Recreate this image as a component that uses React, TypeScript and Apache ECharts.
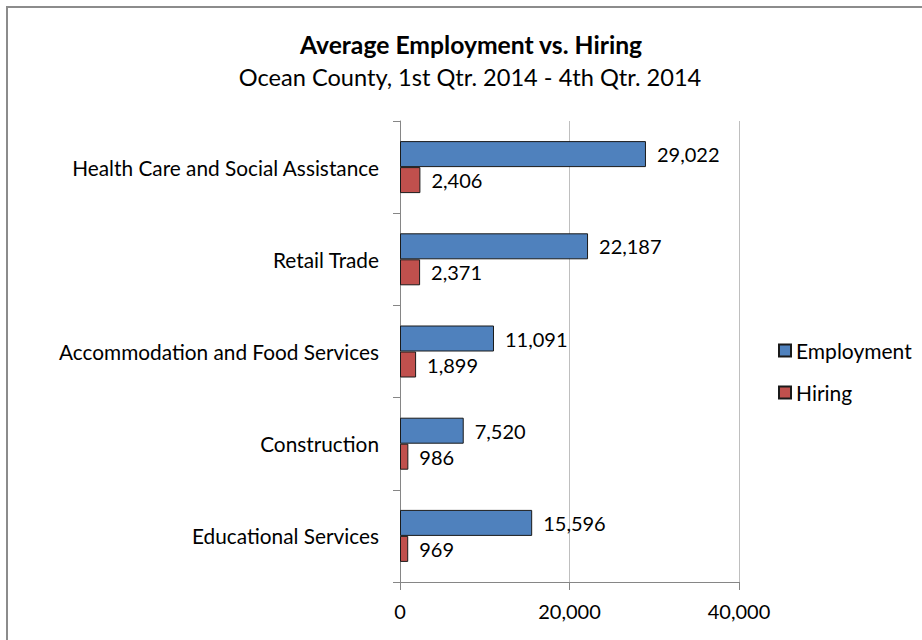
import React, { useEffect, useRef } from "react";
import * as echarts from "echarts";

const categories = [
  "Health Care and Social Assistance",
  "Retail Trade",
  "Accommodation and Food Services",
  "Construction",
  "Educational Services",
];
const employment = [29022, 22187, 11091, 7520, 15596];
const hiring = [2406, 2371, 1899, 986, 969];
const xTicks = { min: 0, max: 40000, interval: 20000 };

const FONT = "Lato, 'Open Sans', sans-serif";
const fmt = (v: number) => v.toLocaleString("en-US");

export default function App() {
  const ref = useRef<HTMLDivElement>(null);
  useEffect(() => {
    const chart = echarts.init(ref.current!, null, { renderer: "svg" });
    chart.setOption({
      animation: false,
      backgroundColor: "#ffffff",
      textStyle: { fontFamily: FONT, color: "#000" },
      title: [
        {
          text: "Average Employment vs. Hiring",
          left: 466,
          top: 27,
          textAlign: "center",
          textStyle: { fontFamily: FONT, fontSize: 24.7, fontWeight: "bold", color: "#000" },
        },
        {
          text: "Ocean County, 1st Qtr. 2014 - 4th Qtr. 2014",
          left: 465,
          top: 60,
          textAlign: "center",
          textStyle: { fontFamily: FONT, fontSize: 23.6, fontWeight: "normal", color: "#000" },
        },
      ],
      legend: {
        orient: "vertical",
        left: 773,
        top: 335,
        itemWidth: 12,
        itemHeight: 12,
        itemGap: 21,
        icon: "rect",
        textStyle: { fontFamily: FONT, fontSize: 21, color: "#000" },
        data: ["Employment", "Hiring"],
      },
      grid: { left: 400, top: 121, width: 339, height: 461, containLabel: false },
      xAxis: {
        type: "value",
        min: xTicks.min,
        max: xTicks.max,
        interval: xTicks.interval,
        axisLine: { show: true, lineStyle: { color: "#868686", width: 1 } },
        axisTick: { show: true, length: 8, lineStyle: { color: "#868686" } },
        splitLine: { show: true, lineStyle: { color: "#bfbfbf", width: 1 } },
        axisLabel: {
          margin: 19,
          fontFamily: FONT,
          fontSize: 20,
          color: "#000",
          formatter: (v: number) => fmt(v),
        },
      },
      yAxis: {
        type: "category",
        data: categories,
        inverse: true,
        axisLine: { show: true, lineStyle: { color: "#868686", width: 1 } },
        axisTick: { show: true, length: 7, lineStyle: { color: "#868686" } },
        axisLabel: { margin: 21, fontFamily: FONT, fontSize: 20.8, color: "#000" },
      },
      series: [
        {
          name: "Employment",
          type: "bar",
          data: employment,
          barWidth: 26,
          barGap: "0%",
          itemStyle: { color: "#4f81bd", borderColor: "#1a1a1a", borderWidth: 1 },
          label: {
            show: true,
            position: "right",
            distance: 11,
            fontFamily: FONT,
            fontSize: 20,
            color: "#000",
            formatter: (p: any) => fmt(p.value),
          },
        },
        {
          name: "Hiring",
          type: "bar",
          data: hiring,
          barWidth: 26,
          barGap: "0%",
          itemStyle: { color: "#c0504d", borderColor: "#1a1a1a", borderWidth: 1 },
          label: {
            show: true,
            position: "right",
            distance: 11,
            fontFamily: FONT,
            fontSize: 20,
            color: "#000",
            formatter: (p: any) => fmt(p.value),
          },
        },
      ],
      graphic: [
        {
          type: "rect",
          shape: { x: 7, y: 7, width: 1000, height: 1000 },
          style: { fill: "none", stroke: "#8c8c8c", lineWidth: 2 },
          silent: true,
        },
      ],
    });
    return () => chart.dispose();
  }, []);
  return (
    <div
      ref={ref}
      style={{ position: "fixed", left: 0, top: 0, width: 922, height: 640, background: "#fff" }}
    />
  );
}
